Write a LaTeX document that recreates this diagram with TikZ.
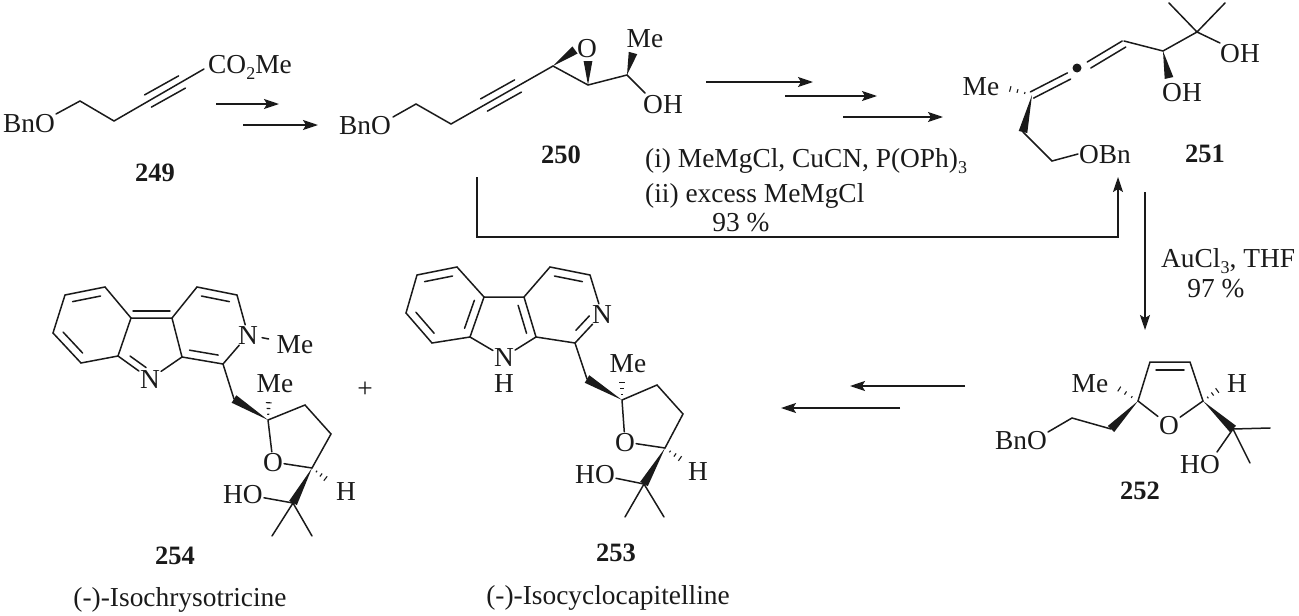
\documentclass[tikz,border=0pt]{standalone}
\usepackage{fontspec}
\setmainfont{Liberation Serif}
\usepackage{tikz}
\usetikzlibrary{positioning}
\usetikzlibrary{calc,arrows.meta}

\definecolor{ink}{HTML}{1A1A1A}
\tikzset{
  lbl/.style={inner sep=1pt,text=ink,font=\fontsize{27.4}{28}\selectfont,text height=18pt,text depth=0pt},
  cmpd/.style={inner sep=1pt,text=ink,font=\fontsize{26.5}{28}\selectfont\bfseries},
  bond/.style={draw=ink,line width=1.5pt,line cap=round},
  rxn/.style={draw=ink,line width=1.5pt,-{Stealth[length=15pt,width=10pt,inset=3pt]}},
}
\newcommand{\lowidx}[1]{\raisebox{-.25em}{\fontsize{18}{18}\selectfont #1}}
\newcommand{\sidebond}[4]{\draw[bond] ($(#1)!#4!(#2)!#3!90:(#2)$) -- ($(#2)!#4!(#1)!#3!-90:(#1)$);}
\newcommand{\wedgebond}[2]{\fill[ink] (#1) -- ($(#2)!4.4pt!90:(#1)$) -- ($(#2)!4.4pt!-90:(#1)$) -- cycle;}
\newcommand{\hashbond}[2]{\foreach \f/\w in {.25/1,.5/1.9,.75/2.8,1/3.7}{\draw[draw=ink,line width=1.1pt] ($(#1)!\f!(#2)!\w pt!90:(#2)$) -- ($(#1)!\f!(#2)!\w pt!-90:(#2)$);}}

\begin{document}
\begin{tikzpicture}[x=1pt,y=-1pt]
  \useasboundingbox (0,0) rectangle (1299,616);
  % 249
  \node(bnoA) [lbl] at (29,123) {BnO};
  \node(esterA) [lbl,anchor=west] at (207,64) {CO\lowidx{2}Me};
  \node(numA) [cmpd] at (155,173) {249};
  \coordinate (a0) at (56,114);
  \coordinate (a1) at (80,101);
  \coordinate (a2) at (114,121);
  \coordinate (a3) at (148,101);
  \coordinate (a4) at (182,82);
  \coordinate (a5) at (204,69);
  \draw[bond] (a0) -- (a1) -- (a2) -- (a5);
  \sidebond{a3}{a4}{7pt}{0}
  \sidebond{a3}{a4}{-7pt}{0}
  \coordinate (arA1) at (216,104);
  \coordinate (arA2) at (279,104);
  \coordinate (arB1) at (243,125);
  \coordinate (arB2) at (318,125);
  \draw[rxn] (arA1) -- (arA2);
  \draw[rxn] (arB1) -- (arB2);
  % 250
  \node(bnoB) [lbl] at (365,125) {BnO};
  \node(oxB) [lbl] at (587,48) {O};
  \node(meB) [lbl] at (645,38) {Me};
  \node(ohB) [lbl] at (663,104) {OH};
  \node(numB) [cmpd] at (561,155) {250};
  \coordinate (b0) at (393,117);
  \coordinate (b1) at (416,104);
  \coordinate (b2) at (451,124);
  \coordinate (b3) at (484,105);
  \coordinate (b4) at (518,86);
  \coordinate (b5) at (553,66);
  \coordinate (b6) at (588,85);
  \coordinate (b7) at (627,75);
  \coordinate (b8) at (645,93);
  \coordinate (b9) at (575,50);
  \coordinate (b10) at (588,61);
  \coordinate (b11) at (633,53);
  \draw[bond] (b0) -- (b1) -- (b2) -- (b5) -- (b6) -- (b7) -- (b8);
  \sidebond{b3}{b4}{7pt}{0}
  \sidebond{b3}{b4}{-7pt}{0}
  \wedgebond{b5}{b9}
  \wedgebond{b6}{b10}
  \wedgebond{b7}{b11}
  \coordinate (arC1) at (706,82);
  \coordinate (arC2) at (813,82);
  \coordinate (arD1) at (785,96);
  \coordinate (arD2) at (877,96);
  \coordinate (arE1) at (843,117);
  \coordinate (arE2) at (943,117);
  \draw[rxn] (arC1) -- (arC2);
  \draw[rxn] (arD1) -- (arD2);
  \draw[rxn] (arE1) -- (arE2);
  \node(stepi) [lbl,anchor=west] at (644,158) {(i) MeMgCl, CuCN, P(OPh)\lowidx{3}};
  \node(stepii) [lbl,anchor=west] at (644,193) {(ii) excess MeMgCl};
  \node(yieldA) [lbl] at (741,222) {93 \%};
  \coordinate (arF1) at (477,177);
  \coordinate (arF2) at (477,237);
  \coordinate (arF3) at (1118,237);
  \coordinate (arF4) at (1118,177);
  \draw[rxn] (arF1) -- (arF2) -- (arF3) -- (arF4);
  % 251
  \node(meC) [lbl] at (981,86) {Me};
  \node(obnC) [lbl] at (1105,154) {OBn};
  \node(ohC) [lbl] at (1240,53) {OH};
  \node(ohD) [lbl] at (1182,92) {OH};
  \node(numC) [cmpd] at (1205,154) {251};
  \node(dotC) [circle,fill=ink,inner sep=0pt,minimum size=9pt] at (1077,68) {};
  \coordinate (c0) at (1032,95);
  \coordinate (c1) at (1069,76);
  \coordinate (c2) at (1089,65);
  \coordinate (c3) at (1124,44);
  \coordinate (c4) at (1124,41);
  \coordinate (c5) at (1163,51);
  \coordinate (c6) at (1197,32);
  \coordinate (c7) at (1169,3);
  \coordinate (c8) at (1225,3);
  \coordinate (c9) at (1220,43);
  \coordinate (c10) at (1169,78);
  \coordinate (c11) at (1023,132);
  \coordinate (c12) at (1052,161);
  \coordinate (c13) at (1078,154);
  \coordinate (c14) at (1003,87);
  \sidebond{c0}{c1}{3.5pt}{0}
  \sidebond{c0}{c1}{-3.5pt}{0}
  \sidebond{c2}{c3}{3.5pt}{0}
  \sidebond{c2}{c3}{-3.5pt}{0}
  \draw[bond] (c4) -- (c5) -- (c6) -- (c7);
  \draw[bond] (c6) -- (c8);
  \draw[bond] (c6) -- (c9);
  \draw[bond] (c11) -- (c12) -- (c13);
  \wedgebond{c5}{c10}
  \wedgebond{c0}{c11}
  \hashbond{c0}{c14}
  \coordinate (arG1) at (1145,192);
  \coordinate (arG2) at (1145,330);
  \draw[rxn] (arG1) -- (arG2);
  \node(gold) [lbl,anchor=west] at (1160,258) {AuCl\lowidx{3}, THF};
  \node(yieldB) [lbl] at (1216,288) {97 \%};
  % 252
  \node(bnoD) [lbl] at (1021,440) {BnO};
  \node(meD) [lbl] at (1090,383) {Me};
  \node(hD) [lbl] at (1237,383) {H};
  \node(oxD) [lbl] at (1169,425) {O};
  \node(hoD) [lbl] at (1200,464) {HO};
  \node(numD) [cmpd] at (1140,491) {252};
  \coordinate (d0) at (1138,401);
  \coordinate (d1) at (1150,362);
  \coordinate (d2) at (1190,362);
  \coordinate (d3) at (1203,401);
  \coordinate (d4) at (1111,429);
  \coordinate (d5) at (1072,418);
  \coordinate (d6) at (1048,432);
  \coordinate (d7) at (1233,429);
  \coordinate (d8) at (1270,428);
  \coordinate (d9) at (1250,463);
  \coordinate (d10) at (1217,452);
  \coordinate (d11) at (1113,385);
  \coordinate (d12) at (1222,387);
  \draw[bond] (oxD) -- (d0) -- (d1) -- (d2) -- (d3) -- (oxD);
  \sidebond{d1}{d2}{-8pt}{.15}
  \draw[bond] (d4) -- (d5) -- (d6);
  \draw[bond] (d7) -- (d8);
  \draw[bond] (d7) -- (d9);
  \draw[bond] (d7) -- (d10);
  \wedgebond{d0}{d4}
  \wedgebond{d3}{d7}
  \hashbond{d0}{d11}
  \hashbond{d3}{d12}
  \coordinate (arH1) at (965,386);
  \coordinate (arH2) at (850,386);
  \coordinate (arI1) at (900,408);
  \coordinate (arI2) at (781,408);
  \draw[rxn] (arH1) -- (arH2);
  \draw[rxn] (arI1) -- (arI2);
  % 253
  \node(nhE) [lbl] at (504,357) {N};
  \node(hE) [lbl] at (504,383) {H};
  \node(nE) [lbl] at (602,314) {N};
  \node(meE) [lbl] at (628,363) {Me};
  \node(oxE) [lbl] at (625,442) {O};
  \node(hoE) [lbl] at (595,474) {HO};
  \node(hhE) [lbl] at (698,471) {H};
  \node(numE) [cmpd] at (616,553) {253};
  \node(nameE) [lbl] at (608,595) {(-)-Isocyclocapitelline};
  \coordinate (e1) at (417,275);
  \coordinate (e2) at (457,267);
  \coordinate (e3) at (484,297);
  \coordinate (e4) at (470,337);
  \coordinate (e5) at (432,343);
  \coordinate (e6) at (406,313);
  \coordinate (e7) at (524,297);
  \coordinate (e8) at (536,337);
  \coordinate (e9) at (550,267);
  \coordinate (e10) at (590,275);
  \coordinate (e11) at (575,343);
  \coordinate (e12) at (587,379);
  \coordinate (e13) at (622,400);
  \coordinate (e14) at (657,385);
  \coordinate (e15) at (683,414);
  \coordinate (e16) at (665,448);
  \coordinate (e17) at (644,484);
  \coordinate (e18) at (625,517);
  \coordinate (e19) at (664,517);
  \coordinate (e20) at (622,377);
  \coordinate (e21) at (685,462);
  \draw[bond] (e1) -- (e2) -- (e3) -- (e4) -- (e5) -- (e6) -- cycle;
  \draw[bond] (e3) -- (e7) -- (e8) -- (e11) -- (nE) -- (e10) -- (e9) -- (e7);
  \draw[bond] (e4) -- (nhE) -- (e8);
  \sidebond{e1}{e2}{-8pt}{.15}
  \sidebond{e3}{e4}{-8pt}{.15}
  \sidebond{e5}{e6}{-8pt}{.15}
  \sidebond{e7}{e8}{-8pt}{.15}
  \sidebond{e9}{e10}{-8pt}{.15}
  \sidebond{e11}{nE}{8pt}{.25}
  \draw[bond] (e11) -- (e12);
  \draw[bond] (e13) -- (e14) -- (e15) -- (e16) -- (oxE) -- (e13);
  \draw[bond] (hoE) -- (e17) -- (e18);
  \draw[bond] (e17) -- (e19);
  \wedgebond{e13}{e12}
  \wedgebond{e16}{e17}
  \hashbond{e13}{e20}
  \hashbond{e16}{e21}
  % 254
  \node(nF) [lbl] at (150,379) {N};
  \node(nmF) [lbl] at (248,335) {N};
  \node(memF) [lbl] at (295,344) {Me};
  \node(meF) [lbl] at (275,383) {Me};
  \node(oxF) [lbl] at (273,462) {O};
  \node(hoF) [lbl] at (243,494) {HO};
  \node(hhF) [lbl] at (346,491) {H};
  \node(numF) [cmpd] at (175,556) {254};
  \node(nameF) [lbl] at (180,597) {(-)-Isochrysotricine};
  \node(plusF) [lbl] at (365,388) {+};
  \coordinate (f1) at (65,295);
  \coordinate (f2) at (105,287);
  \coordinate (f3) at (131,318);
  \coordinate (f4) at (118,356);
  \coordinate (f5) at (81,363);
  \coordinate (f6) at (53,333);
  \coordinate (f7) at (172,318);
  \coordinate (f8) at (182,357);
  \coordinate (f9) at (197,287);
  \coordinate (f10) at (237,295);
  \coordinate (f11) at (223,364);
  \coordinate (f12) at (234,399);
  \coordinate (f13) at (268,420);
  \coordinate (f14) at (305,405);
  \coordinate (f15) at (331,434);
  \coordinate (f16) at (312,468);
  \coordinate (f17) at (293,503);
  \coordinate (f18) at (272,536);
  \coordinate (f19) at (312,536);
  \coordinate (f20) at (269,397);
  \coordinate (f21) at (330,482);
  \draw[bond] (f1) -- (f2) -- (f3) -- (f4) -- (f5) -- (f6) -- cycle;
  \draw[bond] (f3) -- (f7) -- (f8) -- (f11) -- (nmF) -- (f10) -- (f9) -- (f7);
  \draw[bond] (f4) -- (nF) -- (f8);
  \draw[bond,shorten <=3pt,shorten >=7pt] (nmF) -- (memF);
  \sidebond{f1}{f2}{-8pt}{.15}
  \sidebond{f5}{f6}{-8pt}{.15}
  \sidebond{f3}{f7}{7pt}{.05}
  \sidebond{f4}{nF}{7pt}{.25}
  \sidebond{f8}{f11}{8pt}{.15}
  \sidebond{f9}{f10}{-8pt}{.15}
  \draw[bond] (f11) -- (f12);
  \draw[bond] (f13) -- (f14) -- (f15) -- (f16) -- (oxF) -- (f13);
  \draw[bond] (hoF) -- (f17) -- (f18);
  \draw[bond] (f17) -- (f19);
  \wedgebond{f13}{f12}
  \wedgebond{f16}{f17}
  \hashbond{f13}{f20}
  \hashbond{f16}{f21}
\end{tikzpicture}
\end{document}
